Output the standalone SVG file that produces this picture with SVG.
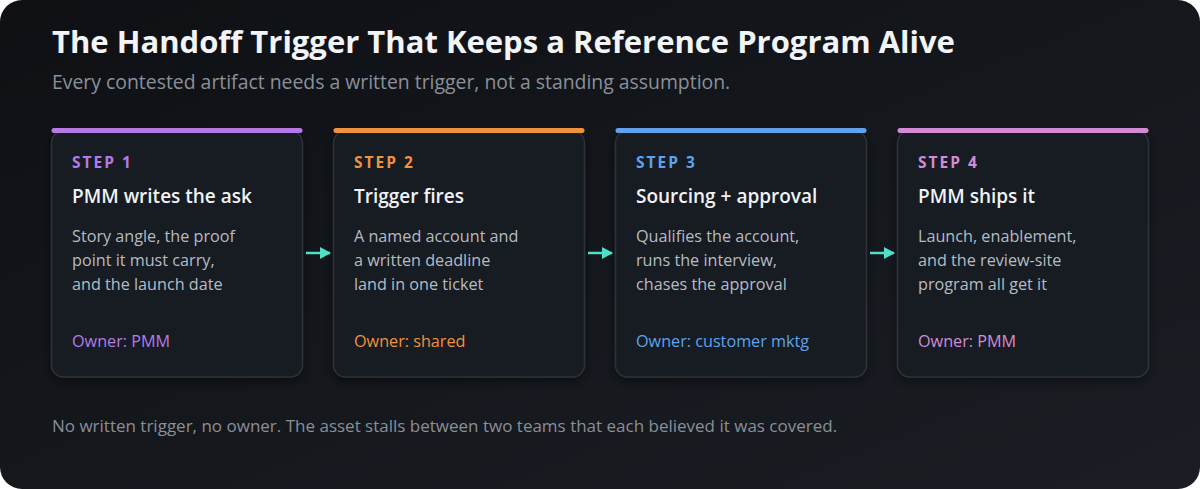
<svg xmlns="http://www.w3.org/2000/svg" width="1200" height="489" viewBox="0 0 1200 489">
<defs>
<linearGradient id="bg" x1="0" y1="0" x2="1" y2="1">
<stop offset="0" stop-color="#0e1014"/>
<stop offset="1" stop-color="#1a1e24"/>
</linearGradient>
<filter id="sh" x="-20%" y="-20%" width="140%" height="140%">
<feDropShadow dx="0" dy="4" stdDeviation="6" flood-color="#000" flood-opacity="0.45"/>
</filter>
<marker id="ah" markerWidth="11" markerHeight="12" refX="10" refY="6" orient="auto" markerUnits="userSpaceOnUse">
<path d="M0,0 L11,6 L0,12 Z" fill="#4fe0c8"/>
</marker>
<style>
text{font-family:"Open Sans","Noto Sans","Liberation Sans",sans-serif}
.title{font-size:31px;font-weight:700;fill:#f2f4f7}
.sub{font-size:19.4px;fill:#8b9099}
.card{fill:#181b21;stroke:#2e3238;stroke-width:1.5}
.step{font-size:15.5px;font-weight:700;letter-spacing:2px}
.head{font-size:19px;font-weight:600;fill:#f0f2f5}
.body{font-size:16.2px;fill:#b6bbc3}
.own{font-size:16.2px}
.foot{font-size:17px;fill:#8a8f98}
.bar{stroke-width:5;stroke-linecap:round}
.conn{stroke:#4fe0c8;stroke-width:2.5;fill:none}
</style>
</defs>
<rect x="0" y="0" width="1200" height="489" fill="#ffffff"/>
<rect x="0" y="0" width="1200" height="489" rx="22" fill="url(#bg)"/>
<text class="title" x="52" y="53">The Handoff Trigger That Keeps a Reference Program Alive</text>
<text class="sub" x="52" y="89">Every contested artifact needs a written trigger, not a standing assumption.</text>

<g id="step1">
<rect class="card" x="51.5" y="131" width="251" height="246" rx="12" filter="url(#sh)"/>
<line class="bar" x1="54" y1="130.5" x2="300" y2="130.5" stroke="#b57ae8"/>
<text class="step" x="72" y="168" fill="#b57ae8">STEP 1</text>
<text class="head" x="72" y="203">PMM writes the ask</text>
<text class="body" x="72" y="242">Story angle, the proof</text>
<text class="body" x="72" y="266">point it must carry,</text>
<text class="body" x="72" y="290">and the launch date</text>
<text class="own" x="72" y="347" fill="#b57ae8">Owner: PMM</text>
</g>

<g id="step2">
<rect class="card" x="333.5" y="131" width="251" height="246" rx="12" filter="url(#sh)"/>
<line class="bar" x1="336" y1="130.5" x2="582" y2="130.5" stroke="#f0913f"/>
<text class="step" x="354" y="168" fill="#f0913f">STEP 2</text>
<text class="head" x="354" y="203">Trigger fires</text>
<text class="body" x="354" y="242">A named account and</text>
<text class="body" x="354" y="266">a written deadline</text>
<text class="body" x="354" y="290">land in one ticket</text>
<text class="own" x="354" y="347" fill="#f0913f">Owner: shared</text>
</g>

<g id="step3">
<rect class="card" x="615.5" y="131" width="251" height="246" rx="12" filter="url(#sh)"/>
<line class="bar" x1="618" y1="130.5" x2="864" y2="130.5" stroke="#5ea2ee"/>
<text class="step" x="636" y="168" fill="#5ea2ee">STEP 3</text>
<text class="head" x="636" y="203">Sourcing + approval</text>
<text class="body" x="636" y="242">Qualifies the account,</text>
<text class="body" x="636" y="266">runs the interview,</text>
<text class="body" x="636" y="290">chases the approval</text>
<text class="own" x="636" y="347" fill="#5ea2ee">Owner: customer mktg</text>
</g>

<g id="step4">
<rect class="card" x="897.5" y="131" width="251" height="246" rx="12" filter="url(#sh)"/>
<line class="bar" x1="900" y1="130.5" x2="1146" y2="130.5" stroke="#d48bd6"/>
<text class="step" x="918" y="168" fill="#d48bd6">STEP 4</text>
<text class="head" x="918" y="203">PMM ships it</text>
<text class="body" x="918" y="242">Launch, enablement,</text>
<text class="body" x="918" y="266">and the review-site</text>
<text class="body" x="918" y="290">program all get it</text>
<text class="own" x="918" y="347" fill="#d48bd6">Owner: PMM</text>
</g>

<g id="connectors">
<line class="conn" x1="306" y1="253" x2="330" y2="253" marker-end="url(#ah)"/>
<line class="conn" x1="588" y1="253" x2="612" y2="253" marker-end="url(#ah)"/>
<line class="conn" x1="870" y1="253" x2="894" y2="253" marker-end="url(#ah)"/>
</g>

<text class="foot" x="52" y="432">No written trigger, no owner. The asset stalls between two teams that each believed it was covered.</text>
</svg>
